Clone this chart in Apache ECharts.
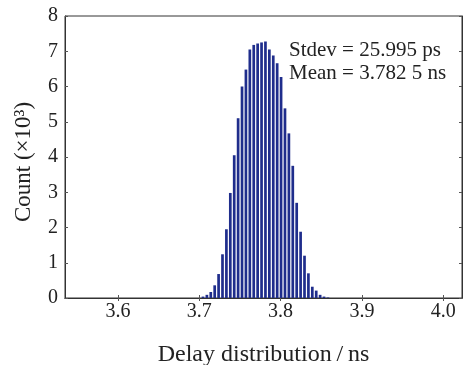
<!DOCTYPE html>
<html>
<head>
<meta charset="utf-8">
<script src="https://cdn.jsdelivr.net/npm/echarts@6/dist/echarts.min.js"></script>
<style>
  html, body { margin: 0; padding: 0; background: #fff; }
  #chart { width: 467px; height: 365px; }
</style>
</head>
<body>
<div id="chart"></div>
<script>
// histogram bins (ns) and counts (x10^3)
const binStart = 3.7046;
const binWidth = 0.0048;
const counts = [
  0.04, 0.09, 0.17, 0.36, 0.68, 1.24, 1.95, 2.98, 4.05, 5.10,
  6.00, 6.48, 7.05, 7.18, 7.22, 7.25, 7.28, 7.05, 6.88, 6.66,
  6.27, 5.38, 4.67, 3.75, 2.70, 1.88, 1.20, 0.70, 0.32, 0.21,
  0.09, 0.04, 0.015
];
const xTicks = [3.6, 3.7, 3.8, 3.9, 4.0];
const statLines = ['Stdev = 25.995 ps', 'Mean = 3.782 5 ns'];

const font = 'Liberation Serif';
const ink = '#222';

const chart = echarts.init(document.getElementById('chart'), null, { renderer: 'canvas' });

const axisLine = { show: true, lineStyle: { color: '#333', width: 1 } };

chart.setOption({
  animation: false,
  backgroundColor: '#fff',
  textStyle: { fontFamily: font, color: ink },
  grid: {
    left: 65, right: 5, top: 16, bottom: 67,
    outerBoundsMode: 'none',
    containLabel: false,
    show: true, borderColor: '#333', borderWidth: 1
  },
  xAxis: [
    {
      type: 'value',
      min: 3.535,
      max: 4.023,
      name: 'Delay distribution\u2009/\u2009ns',
      nameLocation: 'middle',
      nameGap: 45,
      nameTextStyle: { fontFamily: font, fontSize: 24, color: ink },
      axisLine: axisLine,
      axisTick: { show: true, inside: true, length: 3, customValues: xTicks, lineStyle: { color: '#555' } },
      axisLabel: {
        fontFamily: font, fontSize: 20, color: ink, margin: 4,
        customValues: xTicks,
        formatter: v => v.toFixed(1)
      },
      splitLine: { show: false }
    },
    {
      type: 'value', position: 'top', min: 3.535, max: 4.023,
      axisLine: axisLine,
      axisTick: { show: true, inside: true, length: 3, customValues: xTicks, lineStyle: { color: '#555' } },
      axisLabel: { show: false },
      splitLine: { show: false }
    }
  ],
  yAxis: [
    {
      type: 'value',
      min: 0, max: 8, interval: 1,
      name: 'Count (×10³)',
      nameLocation: 'middle',
      nameGap: 30,
      nameRotate: 90,
      nameTextStyle: { fontFamily: font, fontSize: 23, color: ink, padding: [0, 10, 0, 0] },
      axisLine: axisLine,
      axisTick: { show: true, inside: true, length: 3, lineStyle: { color: '#555' } },
      axisLabel: { fontFamily: font, fontSize: 20, color: ink, margin: 7 },
      splitLine: { show: false }
    },
    {
      type: 'value', position: 'right', min: 0, max: 8, interval: 1,
      axisLine: axisLine,
      axisTick: { show: true, inside: true, length: 3, lineStyle: { color: '#555' } },
      axisLabel: { show: false },
      splitLine: { show: false }
    }
  ],
  series: [{
    type: 'bar',
    xAxisIndex: 0,
    yAxisIndex: 0,
    barWidth: 2.7,
    itemStyle: { color: '#1f2d8c' },
    data: counts.map((c, i) => [binStart + i * binWidth, c])
  }],
  graphic: statLines.map((t, i) => ({
    type: 'text',
    left: 289,
    top: 40 + i * 23,
    style: { text: t, fontFamily: font, fontSize: 21, fill: ink }
  }))
});

window.addEventListener('resize', () => chart.resize());
</script>
</body>
</html>
